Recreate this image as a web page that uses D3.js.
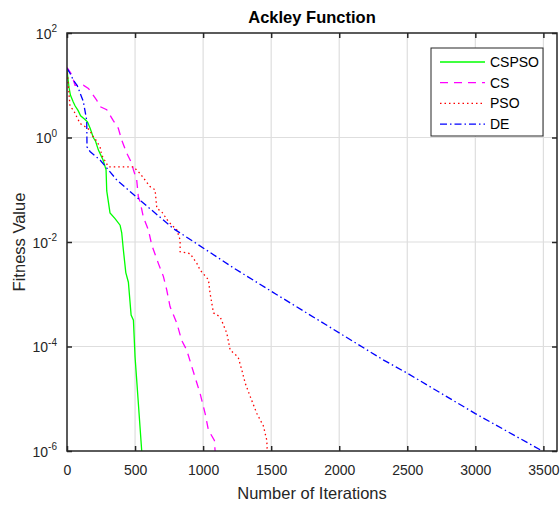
<!DOCTYPE html>
<html>
<head>
<meta charset="utf-8">
<script src="https://cdn.jsdelivr.net/npm/d3@7"></script>
<style>
  body { margin: 0; background: #fff; }
  text { font-family: 'Liberation Sans', Arial, sans-serif; fill: #262626; }
</style>
</head>
<body>
<div class="chart"></div>
<script>
// values
const cspsoIter = [0, 5, 15, 25, 46, 60, 81, 100, 132, 150, 170, 193, 210, 230, 265, 287, 292, 316, 353, 390, 402, 414, 432, 451, 471, 488, 500, 512, 549];
const cspsoFit  = [20, 15, 9, 6.5, 4.8, 4.0, 3.3, 2.6, 2.2, 2.0, 1.5, 1.0, 0.85, 0.58, 0.37, 0.24, 0.095, 0.036, 0.028, 0.021, 0.015, 0.0071, 0.0026, 0.0017, 4.0e-4, 3.2e-4, 6.3e-5, 2.3e-5, 1.0e-6];

const csIter = [0, 35, 59, 120, 157, 218, 243, 292, 340, 377, 402, 439, 476, 488, 512, 524, 537, 561, 598, 623, 671, 708, 733, 757, 807, 843, 880, 917, 954, 978, 1015, 1039, 1083, 1088];
const csFit  = [22, 16, 10, 10, 8.7, 5.2, 3.9, 3.4, 2.1, 1.5, 0.89, 0.5, 0.32, 0.24, 0.155, 0.074, 0.059, 0.030, 0.017, 0.0087, 0.0039, 0.0022, 0.0012, 5.8e-4, 2.8e-4, 1.3e-4, 8.5e-5, 4.1e-5, 2.0e-5, 1.26e-5, 5.2e-6, 2.5e-6, 1.6e-6, 1.0e-6];

const psoIter = [0, 7, 22, 46, 71, 96, 132, 169, 182, 213, 243, 255, 304, 488, 537, 610, 647, 660, 696, 745, 807, 831, 831, 904, 954, 978, 1039, 1051, 1076, 1125, 1174, 1199, 1257, 1285, 1309, 1346, 1395, 1443, 1468, 1471];
const psoFit  = [21, 12.6, 3.9, 3.4, 2.5, 1.86, 1.62, 1.38, 1.12, 0.89, 0.66, 0.46, 0.275, 0.275, 0.204, 0.115, 0.1, 0.044, 0.038, 0.0245, 0.017, 0.011, 0.0065, 0.006, 0.0039, 0.0029, 0.0019, 0.00105, 4.4e-4, 3.7e-4, 1.8e-4, 8.5e-5, 6.3e-5, 3.5e-5, 2.0e-5, 1.1e-5, 5.2e-6, 3.0e-6, 1.6e-6, 1.0e-6];

const deIter = [0, 22, 46, 76, 96, 120, 145, 147, 169, 243, 365, 537, 782, 929, 1223, 1542, 2326, 2498, 3000, 3478, 3493];
const deFit  = [21, 17, 12.6, 9.8, 7.1, 4.9, 2.1, 0.66, 0.54, 0.37, 0.155, 0.063, 0.018, 0.0102, 0.0032, 9.8e-4, 5.5e-5, 3.1e-5, 5.2e-6, 1.05e-6, 1.0e-6];

const seriesNames = ['CSPSO', 'CS', 'PSO', 'DE'];
const xTicks = [0, 500, 1000, 1500, 2000, 2500, 3000, 3500];
const yExps = [-6, -4, -2, 0, 2];

const margin = ({top: 33, right: 3, bottom: 55, left: 67});
const W = 560, H = 506;
const width = W - margin.left - margin.right;
const height = H - margin.top - margin.bottom;

const svg = d3.select('.chart')
    .append('svg')
    .attr('width', W)
    .attr('height', H);

const g = svg.append('g')
    .attr('transform', 'translate(' + margin.left + ',' + margin.top + ')');

const xScale = d3.scaleLinear().domain([0, 3600]).range([0, width]);
const yScale = d3.scaleLog().domain([1e-6, 1e2]).range([height, 0]);

// grid
g.selectAll('.xgrid')
    .data(xTicks.slice(1))
    .enter().append('line')
    .attr('x1', d=>xScale(d)).attr('x2', d=>xScale(d))
    .attr('y1', 0).attr('y2', height)
    .attr('stroke', '#dedede').attr('stroke-width', 1.2);
g.selectAll('.ygrid')
    .data(yExps.slice(1, -1))
    .enter().append('line')
    .attr('x1', 0).attr('x2', width)
    .attr('y1', d=>yScale(Math.pow(10, d))).attr('y2', d=>yScale(Math.pow(10, d)))
    .attr('stroke', '#dedede').attr('stroke-width', 1.2);

// lines
svg.append('defs').append('clipPath').attr('id', 'clip')
    .append('rect').attr('width', width).attr('height', height);

const series = [
    {name: seriesNames[0], it: cspsoIter, v: cspsoFit, color: '#00ff00', dash: null},
    {name: seriesNames[1], it: csIter, v: csFit, color: '#ff00ff', dash: '8,6'},
    {name: seriesNames[2], it: psoIter, v: psoFit, color: '#ff0000', dash: '1.5,3'},
    {name: seriesNames[3], it: deIter, v: deFit, color: '#0000ff', dash: '7,3,1.5,3'}
];

const line = d3.line()
    .x(d=>xScale(d[0]))
    .y(d=>yScale(d[1]));

g.append('g').attr('clip-path', 'url(#clip)')
    .selectAll('path')
    .data(series)
    .enter().append('path')
    .attr('d', s=>line(s.it.map((x, i)=>[x, s.v[i]])))
    .attr('fill', 'none')
    .attr('stroke', s=>s.color)
    .attr('stroke-width', 1.3)
    .attr('stroke-dasharray', s=>s.dash);

// axes, ticks pointing inward
const xAxis = d3.axisBottom(xScale).tickValues(xTicks).tickFormat(d3.format('d'))
    .tickSizeInner(-5).tickSizeOuter(0).tickPadding(14);
const yAxis = d3.axisLeft(yScale).tickValues(yExps.map(e=>Math.pow(10, e)))
    .tickSizeInner(-5).tickSizeOuter(0).tickPadding(10);

const gx = g.append('g').attr('transform', 'translate(0,' + height + ')').call(xAxis);
const gy = g.append('g').call(yAxis);
g.append('g').call(d3.axisTop(xScale).tickValues(xTicks).tickSizeInner(-5).tickSizeOuter(0).tickFormat(''));
g.append('g').attr('transform', 'translate(' + width + ',0)')
    .call(d3.axisRight(yScale).tickValues(yExps.map(e=>Math.pow(10, e))).tickSizeInner(-5).tickSizeOuter(0).tickFormat(''));

g.selectAll('.domain').remove();
g.selectAll('.tick line').attr('stroke', '#262626').attr('stroke-width', 1.5);

gx.selectAll('text')
    .attr('font-size', '14px')
    .attr('font-family', 'Liberation Sans, Arial, sans-serif')
    .attr('fill', '#262626');

gy.selectAll('text')
    .attr('font-size', '14px')
    .attr('font-family', 'Liberation Sans, Arial, sans-serif')
    .attr('fill', '#262626')
    .attr('dy', '0.36em')
    .text(null)
    .each(function(d) {
        const t = d3.select(this);
        const e = Math.round(Math.log10(d));
        t.append('tspan').text('10');
        t.append('tspan').attr('dy', '-6.5').attr('font-size', '10px').text(e);
    });

g.append('rect')
    .attr('width', width).attr('height', height)
    .attr('fill', 'none').attr('stroke', '#262626').attr('stroke-width', 1.5);

// titles
svg.append('text')
    .attr('x', margin.left + width/2).attr('y', 23)
    .attr('text-anchor', 'middle')
    .attr('font-size', '16.5px').attr('font-weight', 'bold')
    .style('fill', '#000')
    .text('Ackley Function');

svg.append('text')
    .attr('x', margin.left + width/2).attr('y', 499)
    .attr('text-anchor', 'middle')
    .attr('font-size', '16.5px')
    .text('Number of Iterations');

svg.append('text')
    .attr('transform', 'translate(25,' + (margin.top + height/2) + ') rotate(-90)')
    .attr('text-anchor', 'middle')
    .attr('font-size', '16.5px')
    .text('Fitness Value');

// legend
const legend = svg.append('g').attr('transform', 'translate(431,48)');
legend.append('rect')
    .attr('width', 112).attr('height', 88)
    .attr('fill', '#fff').attr('stroke', '#262626').attr('stroke-width', 1);

legend.selectAll('.legendLine')
    .data(series)
    .enter().append('line')
    .attr('x1', 9).attr('x2', 54)
    .attr('y1', (d,i)=>14 + i*20.7).attr('y2', (d,i)=>14 + i*20.7)
    .attr('stroke', d=>d.color)
    .attr('stroke-width', 1.3)
    .attr('stroke-dasharray', d=>d.dash);

legend.selectAll('.legendText')
    .data(series)
    .enter().append('text')
    .attr('x', 59)
    .attr('y', (d,i)=>14 + i*20.7)
    .attr('dy', '0.36em')
    .attr('font-size', '14px')
    .style('fill', '#000')
    .text(d=>d.name);
</script>
</body>
</html>
